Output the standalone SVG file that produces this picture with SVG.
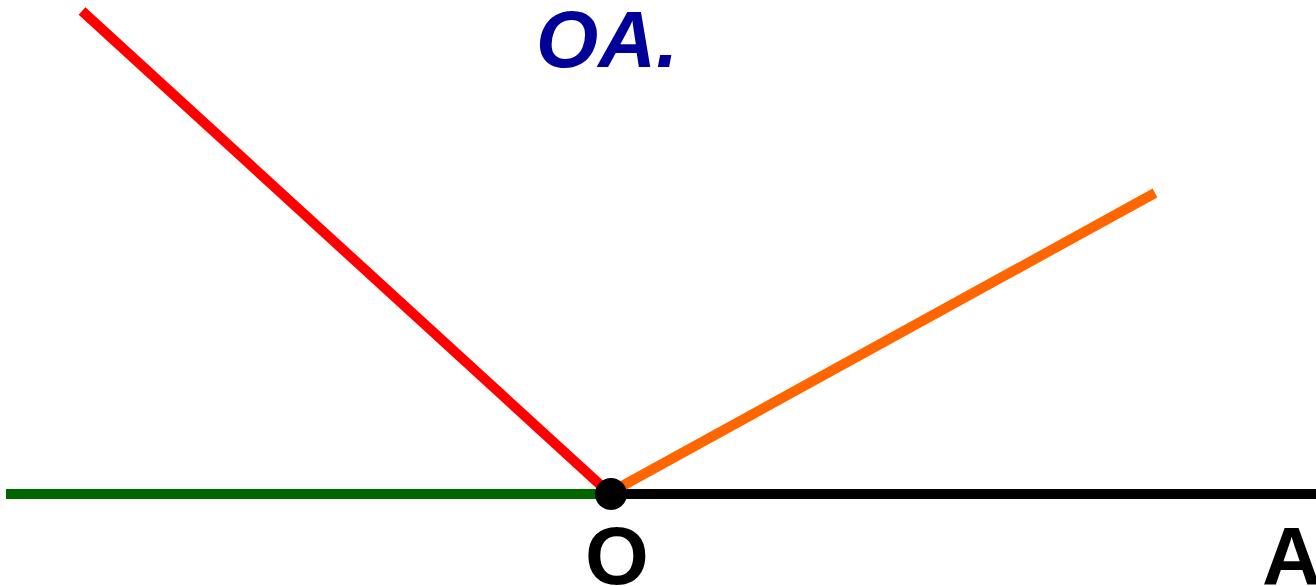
<svg xmlns="http://www.w3.org/2000/svg" width="1316" height="586" viewBox="0 0 1316 586">
<style>
.ln{stroke-width:10;fill:none;stroke-linecap:butt}
.lbl{font-family:"Liberation Sans",Arial,sans-serif;font-weight:bold;font-size:82px;fill:#000}
.ttl{font-family:"Liberation Sans",Arial,sans-serif;font-weight:bold;font-style:italic;font-size:80px;fill:#000099}
</style>
<rect width="1316" height="586" fill="#fff"/>
<g id="connectors">
<line class="ln" x1="6" y1="494" x2="611" y2="494" stroke="#006600"/>
<line class="ln" x1="611" y1="494" x2="1316" y2="494" stroke="#000"/>
<line class="ln" x1="82" y1="11" x2="607" y2="491" stroke="#ff0000"/>
<line class="ln" x1="1155" y1="193" x2="613" y2="491" stroke="#ff6600"/>
</g>
<g id="O">
<circle cx="611" cy="494" r="16" fill="#000"/>
<text class="lbl" x="617" y="584" text-anchor="middle">O</text>
</g>
<g id="A">
<text class="lbl" x="1262" y="584">A</text>
</g>
<g id="title">
<text class="ttl" x="536" y="67">OA.</text>
</g>
</svg>
